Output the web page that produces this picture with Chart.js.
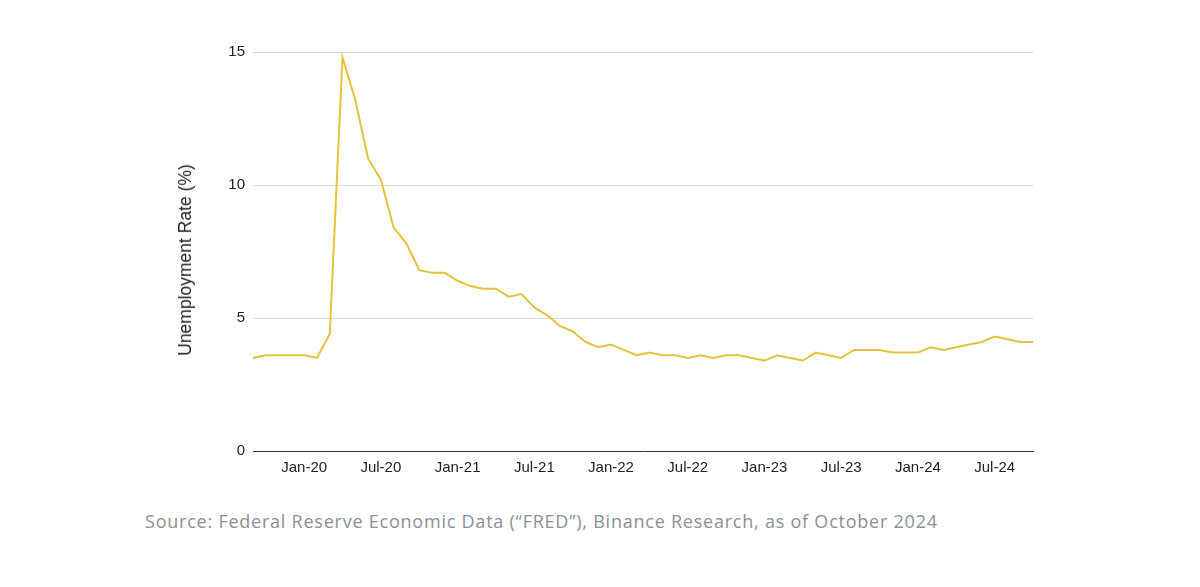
<!DOCTYPE html>
<html>
<head>
<meta charset="utf-8">
<script src="https://cdn.jsdelivr.net/npm/chart.js@4/dist/chart.umd.min.js"></script>
<style>
  html, body { margin: 0; padding: 0; background: #ffffff; }
  body { width: 1200px; height: 587px; position: relative; overflow: hidden; }
  #wrap { position: absolute; left: 0; top: 0; width: 1200px; height: 500px; }
  #source { position: absolute; left: 145px; top: 508px; font-family: "Open Sans", sans-serif; font-size: 18px; color: #8b9097; white-space: nowrap; line-height: 26px; }
  #ytitle { position: absolute; left: 185px; top: 260px; transform: translate(-50%, -50%) rotate(-90deg); font-family: "Liberation Sans", Arial, sans-serif; font-size: 17.5px; color: #222222; white-space: nowrap; line-height: 20px; }
</style>
</head>
<body>
<div id="wrap"><canvas id="c" width="1200" height="500"></canvas></div>
<div id="ytitle"></div>
<div id="source">Source: Federal Reserve Economic Data (“FRED”), Binance Research, as of October 2024</div>
<script>
const months = [
  "Sep-19","Oct-19","Nov-19","Dec-19",
  "Jan-20","Feb-20","Mar-20","Apr-20","May-20","Jun-20","Jul-20","Aug-20","Sep-20","Oct-20","Nov-20","Dec-20",
  "Jan-21","Feb-21","Mar-21","Apr-21","May-21","Jun-21","Jul-21","Aug-21","Sep-21","Oct-21","Nov-21","Dec-21",
  "Jan-22","Feb-22","Mar-22","Apr-22","May-22","Jun-22","Jul-22","Aug-22","Sep-22","Oct-22","Nov-22","Dec-22",
  "Jan-23","Feb-23","Mar-23","Apr-23","May-23","Jun-23","Jul-23","Aug-23","Sep-23","Oct-23","Nov-23","Dec-23",
  "Jan-24","Feb-24","Mar-24","Apr-24","May-24","Jun-24","Jul-24","Aug-24","Sep-24","Oct-24"
];
const unemploymentRate = [
  3.5, 3.6, 3.6, 3.6,
  3.6, 3.5, 4.4, 14.8, 13.2, 11.0, 10.2, 8.4, 7.8, 6.8, 6.7, 6.7,
  6.4, 6.2, 6.1, 6.1, 5.8, 5.9, 5.4, 5.1, 4.7, 4.5, 4.1, 3.9,
  4.0, 3.8, 3.6, 3.7, 3.6, 3.6, 3.5, 3.6, 3.5, 3.6, 3.6, 3.5,
  3.4, 3.6, 3.5, 3.4, 3.7, 3.6, 3.5, 3.8, 3.8, 3.8, 3.7, 3.7,
  3.7, 3.9, 3.8, 3.9, 4.0, 4.1, 4.3, 4.2, 4.1, 4.1
];
const shownTickLabels = ["Jan-20","Jul-20","Jan-21","Jul-21","Jan-22","Jul-22","Jan-23","Jul-23","Jan-24","Jul-24"];
const yTicks = [0, 5, 10, 15];
const yTitle = "Unemployment Rate (%)";

document.getElementById('ytitle').textContent = yTitle;

// fit source line width
(function(){
  const el = document.getElementById('source');
  const target = 792;
  const w = el.getBoundingClientRect().width;
  const n = el.textContent.length;
  if (w > 0 && n > 1) el.style.letterSpacing = ((target - w) / (n - 1)) + 'px';
})();

new Chart(document.getElementById('c'), {
  type: 'line',
  data: {
    labels: months,
    datasets: [{
      data: unemploymentRate,
      borderColor: '#E5C23B',
      borderWidth: 2,
      pointRadius: 0,
      pointHoverRadius: 0,
      tension: 0,
      fill: false
    }]
  },
  options: {
    responsive: false,
    devicePixelRatio: 1,
    animation: false,
    events: [],
    layout: { padding: { left: 172, right: 167, top: 52, bottom: 9 } },
    plugins: { legend: { display: false }, tooltip: { enabled: false }, title: { display: false } },
    scales: {
      x: {
        type: 'category',
        grid: { display: false, drawTicks: false },
        border: { display: true, color: '#333333', width: 1 },
        afterFit: (s) => { s.height = 40; },
        ticks: {
          autoSkip: false,
          maxRotation: 0,
          minRotation: 0,
          padding: 8,
          color: '#222222',
          font: { family: '"Liberation Sans", Arial, sans-serif', size: 15 },
          callback: function(v, i) {
            const l = months[i];
            return shownTickLabels.includes(l) ? l : '';
          }
        }
      },
      y: {
        min: yTicks[0],
        max: yTicks[yTicks.length - 1],
        afterBuildTicks: (s) => { s.ticks = yTicks.map(v => ({ value: v })); },
        afterFit: (s) => { s.width = 81; },
        grid: {
          drawTicks: false,
          color: (ctx) => ctx.tick && ctx.tick.value === 0 ? 'rgba(0,0,0,0)' : '#d9d9d9',
          lineWidth: 1
        },
        border: { display: false },
        ticks: {
          padding: 8,
          color: '#222222',
          font: { family: '"Liberation Sans", Arial, sans-serif', size: 15 }
        },
        title: { display: false }
      }
    }
  }
});
</script>
</body>
</html>
